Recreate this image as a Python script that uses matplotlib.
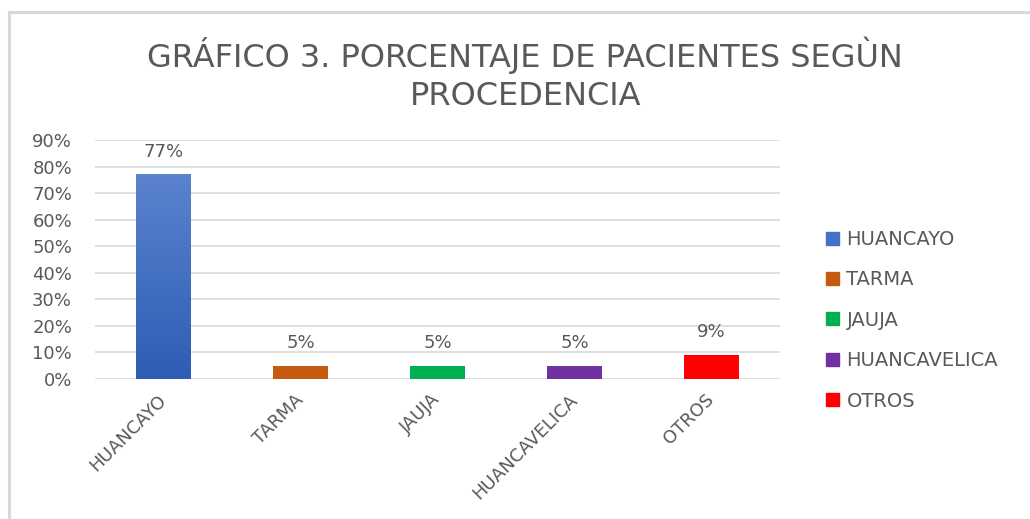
"""Recreate the patient-origin bar chart (Gráfico 3)."""

import matplotlib
matplotlib.use("Agg")
import matplotlib.pyplot as plt
import numpy as np
from matplotlib.colors import LinearSegmentedColormap
from matplotlib.patches import Rectangle

categories = ["HUANCAYO", "TARMA", "JAUJA", "HUANCAVELICA", "OTROS"]
percentages = [77, 5, 5, 5, 9]
bar_colors = ["#4472C4", "#C55A11", "#00B050", "#7030A0", "#FF0000"]
y_ticks = [0, 10, 20, 30, 40, 50, 60, 70, 80, 90]
title = "GRÁFICO 3. PORCENTAJE DE PACIENTES SEGÙN\nPROCEDENCIA"

TEXT_GREY = "#595959"
GRID_GREY = "#D9D9D9"

plt.rcParams["font.family"] = ["DejaVu Sans"]

fig = plt.figure(figsize=(10.30, 5.19), dpi=100)
fig.patches.append(Rectangle((0.009, -0.05), 1.2, 1.027, transform=fig.transFigure,
                             fill=False, edgecolor="#D9D9D9", linewidth=2.2))

ax = fig.add_axes([0.0922, 0.2697, 0.665, 0.4605])
x = np.arange(len(categories))
bars = ax.bar(x, percentages, width=0.4, color=bar_colors, zorder=3, label="_nolegend_")

# vertical gradient on the first bar, like the original
first = bars[0]
grad = LinearSegmentedColormap.from_list("blue", ["#2E5DB5", "#5B83CE"])
bx, bw, bh = first.get_x(), first.get_width(), first.get_height()
ax.imshow(np.linspace(0, 1, 100).reshape(-1, 1), cmap=grad, origin="lower",
          extent=[bx, bx + bw, 0, bh], aspect="auto", zorder=4)
first.set_alpha(0)

for rect, value in zip(bars, percentages):
    ax.annotate(f"{value}%", (rect.get_x() + rect.get_width() / 2, value),
                xytext=(0, 10), textcoords="offset points", ha="center", va="bottom",
                fontsize=13, color=TEXT_GREY)

ax.set_xlim(-0.5, len(categories) - 0.5)
ax.set_ylim(0, 90)
ax.set_yticks(y_ticks)
ax.set_yticklabels([f"{t}%" for t in y_ticks], fontsize=13, color=TEXT_GREY)
ax.set_xticks(x)
ax.set_xticklabels(categories, rotation=45, ha="right", va="center",
                   rotation_mode="anchor", fontsize=13, color=TEXT_GREY)
ax.tick_params(axis="both", length=0)
ax.tick_params(axis="x", pad=13)
ax.tick_params(axis="y", pad=16.5)
ax.grid(axis="y", color=GRID_GREY, linewidth=1.2, zorder=0)
for spine in ax.spines.values():
    spine.set_visible(False)

handles = [Rectangle((0, 0), 1, 1, color=c) for c in bar_colors]
fig.legend(handles, categories, loc="center left", bbox_to_anchor=(0.785, 0.383),
           frameon=False, fontsize=14, labelcolor=TEXT_GREY, handlelength=0.65,
           handleheight=0.65, handletextpad=0.4, labelspacing=1.1)

fig.text(0.51, 0.93, title, ha="center", va="top", fontsize=23, color=TEXT_GREY,
         linespacing=1.3)

fig.savefig("out.png", dpi=100)
